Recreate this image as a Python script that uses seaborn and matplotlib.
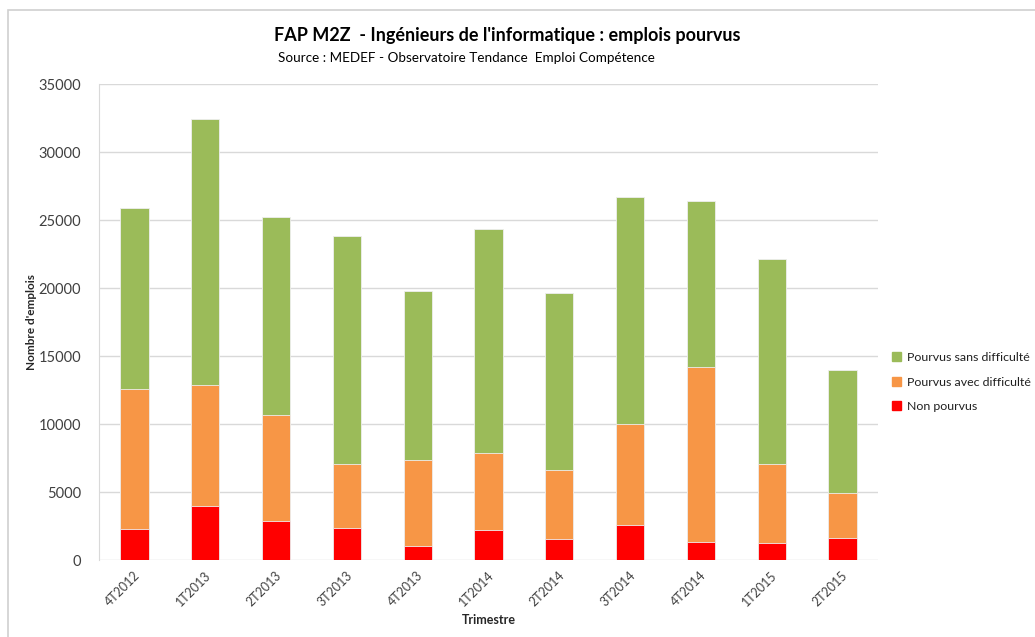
import numpy as np
import pandas as pd
import matplotlib.pyplot as plt
import matplotlib.transforms as mtransforms
import seaborn as sns
from matplotlib.patches import Patch, Rectangle

# trimestres et valeurs
trimestres = ['4T2012', '1T2013', '2T2013', '3T2013', '4T2013', '1T2014',
              '2T2014', '3T2014', '4T2014', '1T2015', '2T2015']
non_pourvus = [2250, 3970, 2840, 2330, 1000, 2200, 1540, 2550, 1300, 1250, 1620]
avec_difficulte = [10300, 8870, 7800, 4730, 6350, 5700, 5080, 7470, 12870, 5830, 3280]
sans_difficulte = [13330, 19560, 14610, 16760, 12430, 16460, 13040, 16670, 12230, 15080, 9090]

vert = '#9BBB59'
orange = '#F79646'
rouge = '#FF0000'

df = pd.DataFrame({'Trimestre': trimestres,
                   'rouge': non_pourvus,
                   'orange': avec_difficulte,
                   'vert': sans_difficulte})
# cumul pour empiler les barres
df['haut_orange'] = df['rouge'] + df['orange']
df['total'] = df['haut_orange'] + df['vert']

sns.set_style('white')
plt.rcParams['font.family'] = ['Lato', 'DejaVu Sans']

fig = plt.figure(figsize=(10.35, 6.37), dpi=100)
fig.patch.set_facecolor('white')
# cadre du graphique
fig.patches.append(Rectangle((8 / 1035, -0.01), 1.05, (637 - 10) / 637 + 0.01,
                             transform=fig.transFigure, fill=False,
                             edgecolor='#D0D0D0', linewidth=1.2))

ax = fig.add_axes([99 / 1035, 1 - 560 / 637, 779 / 1035, 476 / 637])

kw = dict(width=0.4, edgecolor='#EEEEEE', linewidth=0.6, ax=ax, zorder=3)
sns.barplot(data=df, x='Trimestre', y='total', color=vert, saturation=1, **kw)
sns.barplot(data=df, x='Trimestre', y='haut_orange', color=orange, saturation=1, **kw)
sns.barplot(data=df, x='Trimestre', y='rouge', color=rouge, saturation=1, **kw)

ax.set_ylim(0, 35000)
ax.set_xlim(-0.5, 10.5)
ax.set_yticks(np.arange(0, 35001, 5000))
ax.yaxis.grid(True, color='#D9D9D9', linewidth=1, zorder=0)
ax.set_axisbelow(True)
for s in ['top', 'right', 'bottom']:
    ax.spines[s].set_visible(False)
ax.spines['left'].set_color('#D9D9D9')
ax.tick_params(axis='y', labelsize=10.5, colors='#404040', length=0, pad=13)
ax.tick_params(axis='x', labelsize=9, colors='#404040', length=0, pad=0)
decal = mtransforms.ScaledTranslation(-1 / 100, -9 / 100, fig.dpi_scale_trans)
for lab in ax.get_xticklabels():
    lab.set_rotation(45)
    lab.set_ha('right')
    lab.set_va('top')
    lab.set_rotation_mode('anchor')
    lab.set_transform(lab.get_transform() + decal)

ax.set_ylabel("Nombre d'emplois", fontsize=8.5, fontweight='bold', labelpad=1)
ax.set_xlabel('Trimestre', fontsize=9, fontweight='bold', labelpad=4)

fig.text(507 / 1035, 1 - 35 / 637, "FAP M2Z  - Ingénieurs de l'informatique : emplois pourvus",
         ha='center', va='center', fontsize=13, fontweight='bold', color='#000000')
fig.text(278 / 1035, 1 - 58 / 637, 'Source : MEDEF - Observatoire Tendance  Emploi Compétence',
         ha='left', va='center', fontsize=9.7, color='#000000')

handles = [Patch(color=vert, label='Pourvus sans difficulté'),
           Patch(color=orange, label='Pourvus avec difficulté'),
           Patch(color=rouge, label='Non pourvus')]
fig.legend(handles=handles, loc='center left', bbox_to_anchor=(881 / 1035, 1 - 382 / 637),
           frameon=False, fontsize=8.9, handlelength=0.7, handleheight=0.7,
           handletextpad=0.5, labelspacing=1.1, labelcolor='#202020')

fig.savefig('out.png', dpi=100)
